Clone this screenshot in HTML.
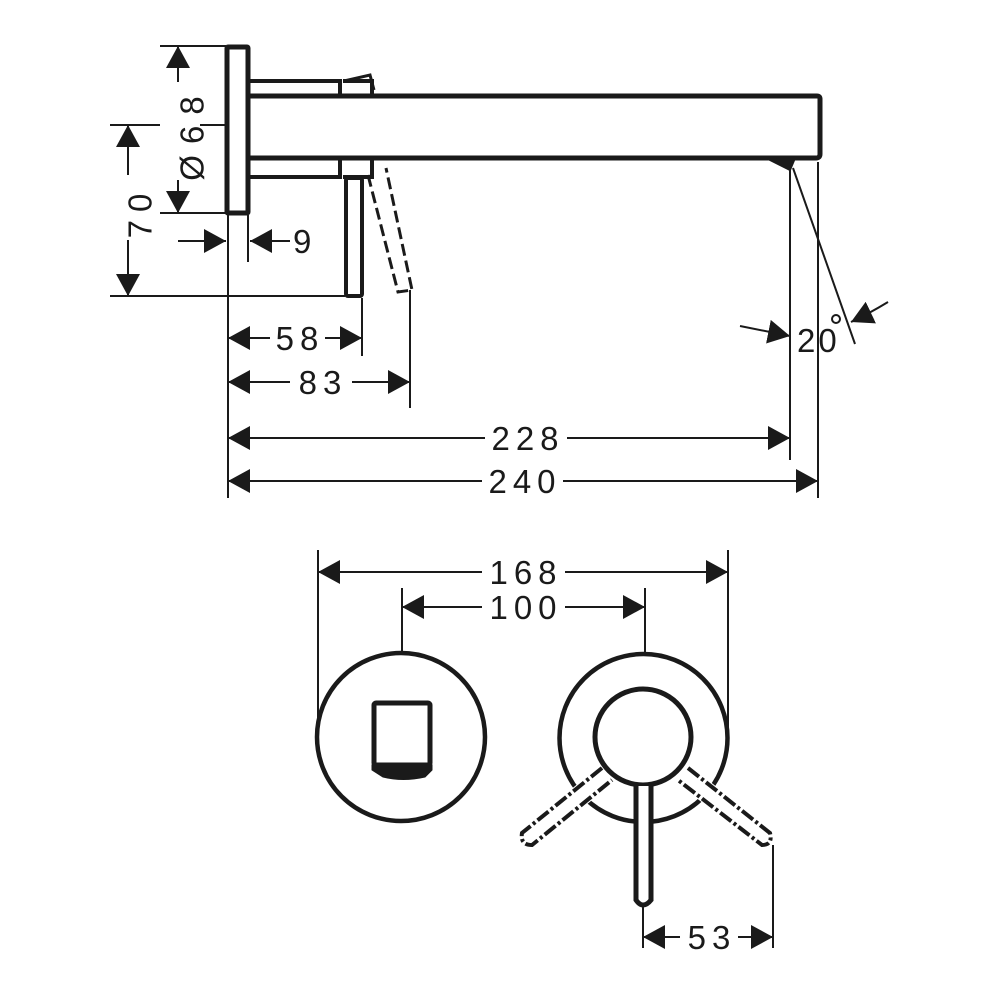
<!DOCTYPE html>
<html><head><meta charset="utf-8"><style>
html,body{margin:0;padding:0;background:#fff}
svg{display:block}
text{font-family:"Liberation Sans",sans-serif;font-size:33px;fill:#1a1a1a;letter-spacing:6px}
</style></head><body>
<svg width="1000" height="1000" viewBox="0 0 1000 1000" xmlns="http://www.w3.org/2000/svg">
<defs>
<marker id="a" markerUnits="userSpaceOnUse" viewBox="0 -12 22 24" refX="22" refY="0" markerWidth="22" markerHeight="24" orient="auto">
<path d="M0,-12 L22,0 L0,12z" fill="#1a1a1a"/>
</marker>
</defs>
<g stroke="#1a1a1a" fill="none">
<rect x="227" y="47" width="21" height="166" stroke-width="5" rx="1"/>
<path d="M248,96 H817 Q820,96 820,99 V154 Q820,158 816,158 H248" stroke-width="5"/>
<path d="M248,81 H340 V96 M248,177 H340 V160" stroke-width="4"/>
<path d="M343,81 H372 V96 M343,177 H372 V160" stroke-width="4"/>
<path d="M344,81 L370,75 L374,90" stroke-width="3"/>
<rect x="346" y="178" width="16" height="118" stroke-width="4" rx="2"/>
<path d="M368,175 L398,292 L412,290 L386,168" stroke-width="3" stroke-dasharray="12,5"/>
<path d="M770,160 L795,158 L790,170 Z" fill="#1a1a1a" stroke-width="2"/>
<g stroke-width="2">
<line x1="160" y1="46" x2="226" y2="46"/>
<line x1="160" y1="213" x2="226" y2="213"/>
<line x1="110" y1="125" x2="160" y2="125"/>
<line x1="200" y1="125" x2="226" y2="125"/>
<line x1="110" y1="296" x2="345" y2="296"/>
<line x1="228" y1="215" x2="228" y2="498"/>
<line x1="248" y1="215" x2="248" y2="262"/>
<line x1="362" y1="298" x2="362" y2="356"/>
<line x1="410" y1="290" x2="410" y2="408"/>
<line x1="790" y1="168" x2="790" y2="460"/>
<line x1="818" y1="162" x2="818" y2="498"/>
<line x1="793" y1="168" x2="855" y2="344"/>
<line x1="178" y1="82" x2="178" y2="46" marker-end="url(#a)"/>
<line x1="178" y1="180" x2="178" y2="213" marker-end="url(#a)"/>
<line x1="128" y1="175" x2="128" y2="125" marker-end="url(#a)"/>
<line x1="128" y1="240" x2="128" y2="296" marker-end="url(#a)"/>
<line x1="178" y1="241" x2="226" y2="241" marker-end="url(#a)"/>
<line x1="290" y1="241" x2="250" y2="241" marker-end="url(#a)"/>
<line x1="270" y1="338" x2="228" y2="338" marker-end="url(#a)"/>
<line x1="325" y1="338" x2="362" y2="338" marker-end="url(#a)"/>
<line x1="290" y1="382" x2="228" y2="382" marker-end="url(#a)"/>
<line x1="352" y1="382" x2="410" y2="382" marker-end="url(#a)"/>
<line x1="485" y1="438" x2="228" y2="438" marker-end="url(#a)"/>
<line x1="567" y1="438" x2="790" y2="438" marker-end="url(#a)"/>
<line x1="482" y1="481" x2="228" y2="481" marker-end="url(#a)"/>
<line x1="563" y1="481" x2="818" y2="481" marker-end="url(#a)"/>
<path d="M740,326 Q765,331 790,336" marker-end="url(#a)"/>
<path d="M888,302 Q870,313 851,322" marker-end="url(#a)"/>
</g>
<circle cx="401" cy="737" r="84" stroke-width="4.5"/>
<rect x="374" y="703" width="56" height="62" stroke-width="5" rx="2"/>
<path d="M372,765 H432 V770 L425,777 Q403,782 383,777 L372,770Z" fill="#1a1a1a" stroke-width="1"/>
<circle cx="643.5" cy="738" r="84" stroke-width="4.5"/>
<circle cx="643" cy="737" r="48" stroke="#fff" stroke-width="10"/>
<circle cx="643" cy="737" r="48" stroke-width="5"/>
<path d="M636,786 V900 Q643,910 651,900 V786" fill="#fff" stroke-width="5"/>
<path d="M602,768 L522,833 Q520,845 532,845 L612,780" fill="#fff" stroke="#fff" stroke-width="6"/>
<path d="M602,768 L522,833 Q520,845 532,845 L612,780" stroke-width="4" stroke-dasharray="14,3,3,3"/>
<path d="M688,768 L770,833 Q773,845 762,845 L678,780" fill="#fff" stroke="#fff" stroke-width="6"/>
<path d="M688,768 L770,833 Q773,845 762,845 L678,780" stroke-width="4" stroke-dasharray="14,3,3,3"/>
<g stroke-width="2">
<line x1="318" y1="550" x2="318" y2="735"/>
<line x1="728" y1="550" x2="728" y2="740"/>
<line x1="402" y1="588" x2="402" y2="654"/>
<line x1="645" y1="588" x2="645" y2="654"/>
<line x1="643" y1="905" x2="643" y2="948"/>
<line x1="773" y1="845" x2="773" y2="948"/>
<line x1="482" y1="572" x2="318" y2="572" marker-end="url(#a)"/>
<line x1="565" y1="572" x2="728" y2="572" marker-end="url(#a)"/>
<line x1="482" y1="607" x2="402" y2="607" marker-end="url(#a)"/>
<line x1="565" y1="607" x2="645" y2="607" marker-end="url(#a)"/>
<line x1="680" y1="937" x2="643" y2="937" marker-end="url(#a)"/>
<line x1="738" y1="937" x2="773" y2="937" marker-end="url(#a)"/>
</g>
</g>
<g>
<text x="195" y="133" transform="rotate(-90 195 133)" text-anchor="middle" dominant-baseline="middle" style="letter-spacing:11px">Ø68</text>
<text x="143" y="212" transform="rotate(-90 143 212)" text-anchor="middle" dominant-baseline="middle" style="letter-spacing:8px">70</text>
<text x="293" y="253">9</text>
<text x="300" y="350" text-anchor="middle">58</text>
<text x="323" y="394" text-anchor="middle">83</text>
<text x="528" y="450" text-anchor="middle">228</text>
<text x="525" y="493" text-anchor="middle">240</text>
<text x="797" y="352" style="letter-spacing:3px">20</text>
<circle cx="836" cy="319" r="4" fill="none" stroke="#1a1a1a" stroke-width="2"/>
<text x="526" y="584" text-anchor="middle">168</text>
<text x="526" y="619" text-anchor="middle">100</text>
<text x="712" y="949" text-anchor="middle">53</text>
</g>
</svg>
</body></html>
